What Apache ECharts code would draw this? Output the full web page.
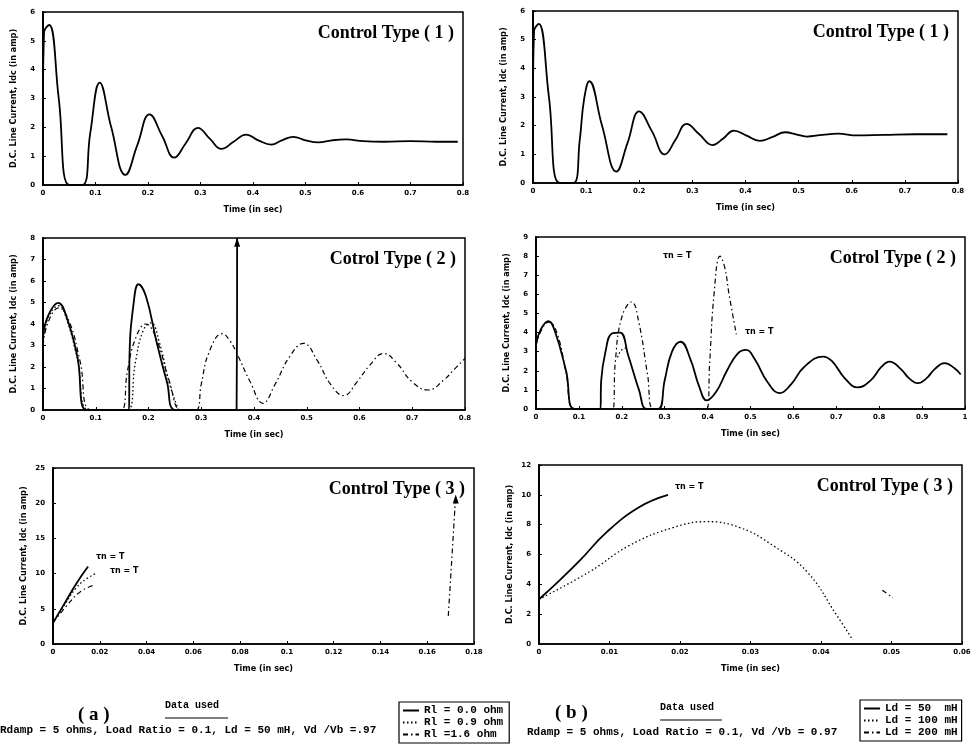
<!DOCTYPE html>
<html>
<head>
<meta charset="utf-8">
<title>DC line current - control types</title>
<script src="https://cdn.jsdelivr.net/npm/echarts@6/dist/echarts.min.js"></script>
<style>
  html, body { margin: 0; padding: 0; background: #fff; }
  #chart { width: 979px; height: 755px; }
</style>
</head>
<body>
<div id="chart"></div>
<script>
// ---- data (time in sec, Idc in amp) ----
// (a) control type 1
const a1Time = [0, 0.002, 0.012, 0.03, 0.05, 0.075, 0.09, 0.108, 0.13, 0.157, 0.18, 0.203, 0.227, 0.25, 0.272, 0.295, 0.318, 0.34, 0.363, 0.387, 0.41, 0.435, 0.455, 0.477, 0.5, 0.525, 0.55, 0.578, 0.61, 0.65, 0.7, 0.75, 0.79]
const a1Idc = [3.0, 5.3, 5.55, 3.0, 0, 0, 1.8, 3.55, 2.0, 0.35, 1.4, 2.45, 1.7, 0.95, 1.45, 1.98, 1.6, 1.25, 1.5, 1.75, 1.55, 1.4, 1.55, 1.67, 1.55, 1.48, 1.55, 1.58, 1.52, 1.5, 1.52, 1.5, 1.5]

// (b) control type 1
const b1Time = [0, 0.002, 0.011, 0.03, 0.05, 0.076, 0.088, 0.096, 0.106, 0.13, 0.157, 0.178, 0.2, 0.224, 0.248, 0.268, 0.289, 0.313, 0.338, 0.358, 0.378, 0.402, 0.427, 0.45, 0.475, 0.495, 0.515, 0.545, 0.574, 0.61, 0.66, 0.72, 0.78]
const b1Idc = [3.0, 5.3, 5.55, 3.0, 0, 0, 1.5, 2.9, 3.55, 2.0, 0.4, 1.4, 2.5, 1.8, 1.0, 1.5, 2.06, 1.7, 1.32, 1.55, 1.83, 1.65, 1.47, 1.6, 1.77, 1.7, 1.62, 1.68, 1.72, 1.66, 1.68, 1.7, 1.7]

// (a) control type 2, three load resistances
const a2Time00 = [0, 0.01, 0.029, 0.045, 0.065, 0.083, 0.163, 0.164, 0.172, 0.181, 0.195, 0.215, 0.235, 0.252, 0.367, 0.368]
const a2Idc00 = [3.4, 4.4, 4.98, 4.3, 2.5, 0, 0, 2.5, 5.0, 5.85, 5.3, 3.2, 1.3, 0, 0, 8.0]
const a2Time09 = [0, 0.01, 0.03, 0.045, 0.065, 0.088, 0.16, 0.175, 0.19, 0.205, 0.22, 0.24, 0.257]
const a2Idc09 = [3.2, 4.3, 4.85, 4.2, 2.4, 0, 0, 2.2, 3.7, 4.05, 3.2, 1.2, 0]
const a2Time16 = [0, 0.01, 0.03, 0.05, 0.07, 0.092, 0.148, 0.16, 0.175, 0.195, 0.215, 0.24, 0.262, 0.29, 0.3, 0.315, 0.34, 0.355, 0.369, 0.393, 0.417, 0.44, 0.468, 0.494, 0.52, 0.545, 0.57, 0.595, 0.62, 0.646, 0.67, 0.7, 0.73, 0.76, 0.78, 0.8]
const a2Idc16 = [3.0, 4.1, 4.75, 4.1, 2.3, 0, 0, 1.8, 3.3, 4.0, 3.3, 1.3, 0, 0, 1.2, 2.7, 3.55, 3.2, 2.55, 1.3, 0.31, 1.2, 2.5, 3.1, 2.3, 1.2, 0.67, 1.3, 2.1, 2.63, 2.2, 1.3, 0.93, 1.4, 1.9, 2.4]
const a2Arrow = [0.368, 7.8]

// (b) control type 2, three dc inductances
const b2Time50 = [0, 0.012, 0.029, 0.045, 0.07, 0.091, 0.15, 0.152, 0.162, 0.177, 0.196, 0.215, 0.24, 0.258, 0.285, 0.3, 0.317, 0.337, 0.36, 0.38, 0.398, 0.42, 0.445, 0.47, 0.49, 0.51, 0.54, 0.568, 0.595, 0.625, 0.669, 0.69, 0.72, 0.75, 0.78, 0.805, 0.824, 0.85, 0.87, 0.89, 0.91, 0.93, 0.952, 0.975, 0.99]
const b2Idc50 = [3.4, 4.2, 4.6, 4.0, 2.0, 0, 0, 1.5, 3.0, 3.95, 4.0, 2.8, 1.0, 0, 0, 1.5, 3.0, 3.52, 2.6, 1.2, 0.45, 0.9, 2.0, 2.9, 3.09, 2.6, 1.4, 0.83, 1.3, 2.2, 2.74, 2.5, 1.6, 1.13, 1.5, 2.2, 2.48, 2.1, 1.6, 1.35, 1.6, 2.1, 2.4, 2.15, 1.8]
const b2Time100 = [0.19, 0.2, 0.212]
const b2Idc100 = [2.7, 3.1, 3.2]
const b2Time200 = [0, 0.012, 0.03, 0.05, 0.07, 0.09, 0.179, 0.185, 0.2, 0.223, 0.24, 0.26, 0.274, 0.398, 0.405, 0.415, 0.429, 0.44, 0.45, 0.467]
const b2Idc200 = [3.3, 4.1, 4.55, 3.9, 1.9, 0, 0, 2.5, 4.8, 5.6, 4.5, 1.8, 0, 0, 2.5, 6.0, 8.0, 7.4, 6.0, 3.9]

// (a) control type 3
const a3Time00 = [0, 0.005, 0.01, 0.015]
const a3Idc00 = [3.0, 5.8, 8.6, 11.0]
const a3Time09 = [0, 0.005, 0.01, 0.0145, 0.019]
const a3Idc09 = [3.0, 5.6, 8.0, 9.3, 10.1]
const a3Time16 = [0, 0.006, 0.012, 0.018, 0.1, 0.169, 0.1705, 0.172]
const a3Idc16 = [3.0, 5.5, 7.5, 8.4, '-', 4.0, 12.0, 20.2]
const a3Arrow = [0.1722, 20.6]

// (b) control type 3
const b3Time50 = [0, 0.003, 0.0058, 0.0096, 0.0143, 0.0183]
const b3Idc50 = [3.0, 4.3, 5.6, 7.5, 9.2, 10.0]
const b3Time100 = [0, 0.0072, 0.0128, 0.019, 0.0238, 0.0285, 0.0332, 0.038, 0.0422, 0.0445]
const b3Idc100 = [3.0, 4.85, 6.6, 7.8, 8.2, 7.8, 6.6, 4.85, 1.95, 0.27]
const b3Time200 = [0.0487, 0.0502]
const b3Idc200 = [3.6, 3.1]

// axis ranges per panel: [xMax, xStep, yMax, yStep]
const panelAxes = [
  [0.8, 0.1, 6, 1],
  [0.8, 0.1, 6, 1],
  [0.8, 0.1, 8, 1],
  [1, 0.1, 9, 1],
  [0.18, 0.02, 25, 5],
  [0.06, 0.01, 12, 2]
]
const panelTitles = ['Control Type ( 1 )', 'Control Type ( 1 )', 'Cotrol Type ( 2 )', 'Cotrol Type ( 2 )', 'Control Type ( 3 )', 'Control Type ( 3 )']

const rlNames = ['Rl = 0.0 ohm', 'Rl = 0.9 ohm', 'Rl =1.6 ohm']
const ldNames = ['Ld = 50  mH', 'Ld = 100 mH', 'Ld = 200 mH']

const zip = (t, v) => t.map((x, i) => [x, v[i]])

const chart = echarts.init(document.getElementById('chart'))

const SOLID = { type: 'solid', width: 1.8 }
const DOTTED = { type: [1.5, 2.5], width: 1.3 }
const DASHDOT = { type: [5, 3, 1.5, 3], width: 1.2 }

function line(name, idx, data, style, extra) {
  return Object.assign({
    name: name,
    type: 'line',
    xAxisIndex: idx,
    yAxisIndex: idx,
    data: data,
    symbol: 'none',
    smooth: 0.45,
    connectNulls: false,
    lineStyle: Object.assign({ color: '#000' }, style),
    itemStyle: { color: '#000' },
    animation: false
  }, extra || {})
}

function arrow(coord) {
  return {
    symbol: 'triangle',
    symbolSize: [6, 9],
    itemStyle: { color: '#000' },
    label: { show: false },
    data: [{ coord: coord }]
  }
}

// grid boxes (pixels)
const grids = [
  { left: 43, top: 12, width: 420, height: 173 },
  { left: 533, top: 11, width: 425, height: 172 },
  { left: 43, top: 238, width: 422, height: 172 },
  { left: 536, top: 237, width: 429, height: 172 },
  { left: 53, top: 468, width: 421, height: 176 },
  { left: 539, top: 465, width: 423, height: 179 }
]

const tickFont = { fontSize: 7, fontWeight: 'bold', color: '#000', fontFamily: 'DejaVu Sans' }
const nameFont = { fontSize: 9, fontWeight: 'bold', color: '#000', fontFamily: 'DejaVu Sans Condensed' }
const legendBase = {
  orient: 'vertical',
  itemWidth: 16,
  itemHeight: 6,
  itemGap: 1,
  borderColor: '#000',
  borderWidth: 1.2,
  selectedMode: false,
  itemStyle: { color: 'transparent', borderWidth: 0 },
  textStyle: { fontSize: 11, fontWeight: 'bold', color: '#000', fontFamily: 'Liberation Mono' }
}

const option = {
  backgroundColor: '#fff',
  animation: false,
  grid: grids.map(g => Object.assign({ show: true, borderColor: '#000', borderWidth: 1.5, backgroundColor: '#fff' }, g)),
  xAxis: panelAxes.map((a, i) => ({
    type: 'value',
    gridIndex: i,
    min: 0,
    max: a[0],
    interval: a[1],
    name: 'Time (in sec)',
    nameLocation: 'middle',
    nameGap: 20,
    nameTextStyle: nameFont,
    axisLine: { show: true, lineStyle: { color: '#000', width: 1.5 } },
    axisTick: { show: true, inside: true, length: 3, lineStyle: { color: '#000' } },
    axisLabel: Object.assign({ margin: 5, showMaxLabel: true }, tickFont),
    splitLine: { show: false }
  })),
  yAxis: panelAxes.map((a, i) => ({
    type: 'value',
    gridIndex: i,
    min: 0,
    max: a[2],
    interval: a[3],
    name: 'D.C. Line Current, Idc (in amp)',
    nameLocation: 'middle',
    nameGap: 25,
    nameTextStyle: nameFont,
    axisLine: { show: true, lineStyle: { color: '#000', width: 2 } },
    axisTick: { show: true, inside: true, length: 3, lineStyle: { color: '#000' } },
    axisLabel: Object.assign({ margin: 8 }, tickFont),
    splitLine: { show: false }
  })),
  legend: [
    Object.assign({ data: rlNames, left: 399, top: 702, padding: [3, 6, 3, 3] }, legendBase),
    Object.assign({ data: ldNames, left: 860, top: 700, padding: [3, 4, 3, 3] }, legendBase)
  ],
  series: [
    line(rlNames[0], 0, zip(a1Time, a1Idc), SOLID),
    line(ldNames[0], 1, zip(b1Time, b1Idc), SOLID),

    line(rlNames[0], 2, zip(a2Time00, a2Idc00), SOLID, { markPoint: arrow(a2Arrow) }),
    line(rlNames[1], 2, zip(a2Time09, a2Idc09), DOTTED),
    line(rlNames[2], 2, zip(a2Time16, a2Idc16), DASHDOT),

    line(ldNames[0], 3, zip(b2Time50, b2Idc50), SOLID),
    line(ldNames[1], 3, zip(b2Time100, b2Idc100), DOTTED),
    line(ldNames[2], 3, zip(b2Time200, b2Idc200), DASHDOT),

    line(rlNames[0], 4, zip(a3Time00, a3Idc00), SOLID),
    line(rlNames[1], 4, zip(a3Time09, a3Idc09), DOTTED),
    line(rlNames[2], 4, zip(a3Time16, a3Idc16), DASHDOT, { markPoint: arrow(a3Arrow) }),

    line(ldNames[0], 5, zip(b3Time50, b3Idc50), SOLID),
    line(ldNames[1], 5, zip(b3Time100, b3Idc100), DOTTED),
    line(ldNames[2], 5, zip(b3Time200, b3Idc200), DASHDOT)
  ],
  graphic: [
    // panel titles
    ...grids.map((g, i) => ({
      type: 'text',
      right: 979 - (g.left + g.width) + 9,
      top: g.top + 12,
      style: { text: panelTitles[i], font: 'bold 18px "Liberation Serif"', fill: '#000' }
    })),
    // tau annotations
    { type: 'text', left: 663, top: 252, style: { text: 'τn = T', font: 'bold 8px "DejaVu Sans"', fill: '#000' } },
    { type: 'text', left: 745, top: 328, style: { text: 'τn = T', font: 'bold 8px "DejaVu Sans"', fill: '#000' } },
    { type: 'text', left: 96, top: 553, style: { text: 'τn = T', font: 'bold 8px "DejaVu Sans"', fill: '#000' } },
    { type: 'text', left: 110, top: 567, style: { text: 'τn = T', font: 'bold 8px "DejaVu Sans"', fill: '#000' } },
    { type: 'text', left: 675, top: 483, style: { text: 'τn = T', font: 'bold 8px "DejaVu Sans"', fill: '#000' } },
    // (a) / (b)
    { type: 'text', left: 78, top: 706, style: { text: '( a )', font: 'bold 19px "Liberation Serif"', fill: '#000' } },
    { type: 'text', left: 555, top: 704, style: { text: '( b )', font: 'bold 19px "Liberation Serif"', fill: '#000' } },
    // data used
    { type: 'text', left: 165, top: 700, style: { text: 'Data used', font: 'bold 10px "Liberation Mono"', fill: '#000' } },
    { type: 'line', shape: { x1: 165, y1: 718, x2: 228, y2: 718 }, style: { stroke: '#000', lineWidth: 1.2 } },
    { type: 'text', left: 660, top: 702, style: { text: 'Data used', font: 'bold 10px "Liberation Mono"', fill: '#000' } },
    { type: 'line', shape: { x1: 660, y1: 720, x2: 722, y2: 720 }, style: { stroke: '#000', lineWidth: 1.2 } },
    { type: 'text', left: 0, top: 725, style: { text: 'Rdamp = 5 ohms, Load Ratio = 0.1, Ld = 50 mH, Vd /Vb =.97', font: 'bold 11px "Liberation Mono"', fill: '#000' } },
    { type: 'text', left: 527, top: 727, style: { text: 'Rdamp = 5 ohms, Load Ratio = 0.1, Vd /Vb = 0.97', font: 'bold 11px "Liberation Mono"', fill: '#000' } }
  ]
}

chart.setOption(option)
</script>
</body>
</html>
